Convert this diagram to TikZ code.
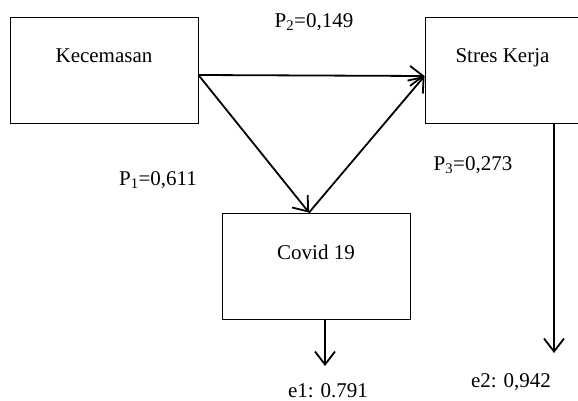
\documentclass[tikz,border=0pt]{standalone}
\usepackage{fontspec}
\setmainfont{Liberation Serif}
\usetikzlibrary{arrows.meta}

\tikzset{
  varbox/.style={draw, line width=0.9pt, inner sep=0pt, minimum width=#1,
    text height=46pt, text depth=60pt},
  patharrow/.style={line width=1.8pt, -{Straight Barb[length=13pt,width=20pt]}},
}

\begin{document}
\begin{tikzpicture}[x=1pt,y=-1pt,font=\fontsize{21}{25}\selectfont]
\useasboundingbox (0,0) rectangle (578,401);

% Variables
\node[varbox=188pt] (kec) at (104,70) {Kecemasan};
\node[varbox=155pt] (stres) at (502.5,70) {Stres Kerja};
\node[varbox=188pt] (cov) at (316,266) {Covid 19};

% Text Node
\node (p2) at (314,22) {P\textsubscript{2}=0,149};
% Text Node
\node (p1) at (158,180) {P\textsubscript{1}=0,611};
% Text Node
\node (p3) at (473,165) {P\textsubscript{3}=0,273};
% Text Node
\node (e1) at (328,391) {e1: 0.791};
% Text Node
\node (e2) at (511,382) {e2: 0,942};

% Paths
\coordinate (kecout) at ([yshift=-5pt]kec.east);
\coordinate (stresin) at ([yshift=-6pt]stres.west);
\coordinate (covin) at ([xshift=-7pt]cov.north);
\coordinate (e1end) at (325,366);
\coordinate (e2end) at (554,353);
\draw[patharrow] (kecout) -- (stresin);
\draw[patharrow] (kecout) -- (covin);
\draw[patharrow] (covin) -- (stresin);
\draw[patharrow] (e1end |- cov.south) -- (e1end);
\draw[patharrow] (e2end |- stres.south) -- (e2end);

\end{tikzpicture}
\end{document}
